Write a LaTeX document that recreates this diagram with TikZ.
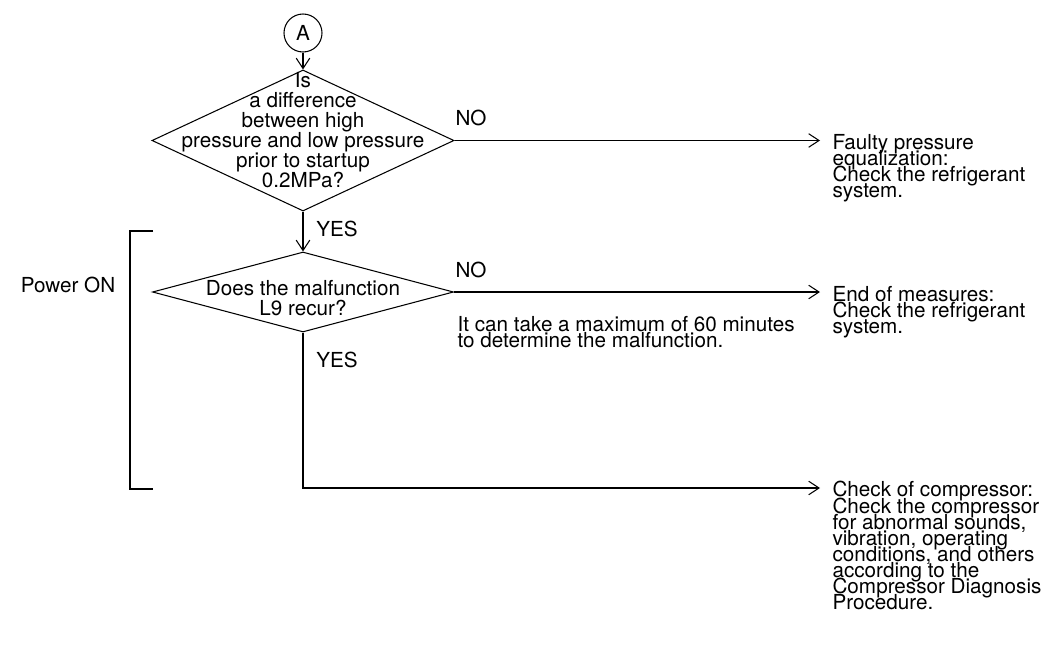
\documentclass[tikz,border=0pt]{standalone}
\usepackage{fontspec}
\setmainfont{TeX Gyre Heros}
\usetikzlibrary{arrows.meta, positioning, calc, shapes.geometric}
\newcommand{\tightlines}{\lineskiplimit=-20pt\relax}

\begin{document}
\begin{tikzpicture}[x=0.025cm,y=-0.025cm,line width=0.75pt,
  every node/.style={font=\fontsize{14.7}{14.2}\selectfont},
  arr/.style={-{Straight Barb[length=2.6mm,width=3.4mm]}},
  decision/.style={draw,diamond,inner sep=0pt},
  qtext/.style={align=center,inner sep=0pt,font=\fontsize{14.7}{14.2}\selectfont\tightlines},
  result/.style={align=left,anchor=north west,inner sep=0pt,font=\fontsize{14.7}{11.4}\selectfont\tightlines}]
  \useasboundingbox (0,0) rectangle (1061,651);

  % connector and decisions
  \node[draw,circle,minimum size=0.95cm,inner sep=0pt] (a) at (303,33) {A};
  \node[decision,minimum width=7.55cm,minimum height=3.525cm] (dA) at (303,140.5) {};
  \node[qtext] (qA) at (303,130) {Is\\a difference\\between high\\pressure and low pressure\\prior to startup\\0.2MPa?};
  \node[decision,minimum width=7.525cm,minimum height=2cm] (dB) at (303,292) {};
  \node[qtext] (qB) at (303,298) {Does the malfunction\\L9 recur?};

  % results
  \node[result] (faulty) at (832,134) {Faulty pressure\\equalization:\\Check the refrigerant\\system.};
  \node[result] (endm) at (832,286) {End of measures:\\Check the refrigerant\\system.};
  \node[result] (comp) at (832,481) {Check of compressor:\\Check the compressor\\for abnormal sounds,\\vibration, operating\\conditions, and others\\according to the\\Compressor Diagnosis\\Procedure.};
  \node[result] (note) at (457,316) {It can take a maximum of 60 minutes\\to determine the malfunction.};

  \node (no1) at (471,118) {NO};
  \node (no2) at (471,270) {NO};
  \node (yes1) at (337,229) {YES};
  \node (yes2) at (337,360) {YES};
  \node (power) at (68,285) {Power ON};

  \draw[arr] (a) -- (dA);
  \draw[arr] (dA) -- (dB);
  \draw[arr,shorten >=0.3cm] (dA.east) -- (dA.east -| faulty.west);
  \draw[arr,shorten >=0.3cm] (dB.east) -- (dB.east -| endm.west);
  \draw[arr] (dB.south) |- ($(comp.north west)+(-12,7)$);

  % power on bracket
  \draw (153,231) -| (130,489) -- (153,489);
\end{tikzpicture}
\end{document}
